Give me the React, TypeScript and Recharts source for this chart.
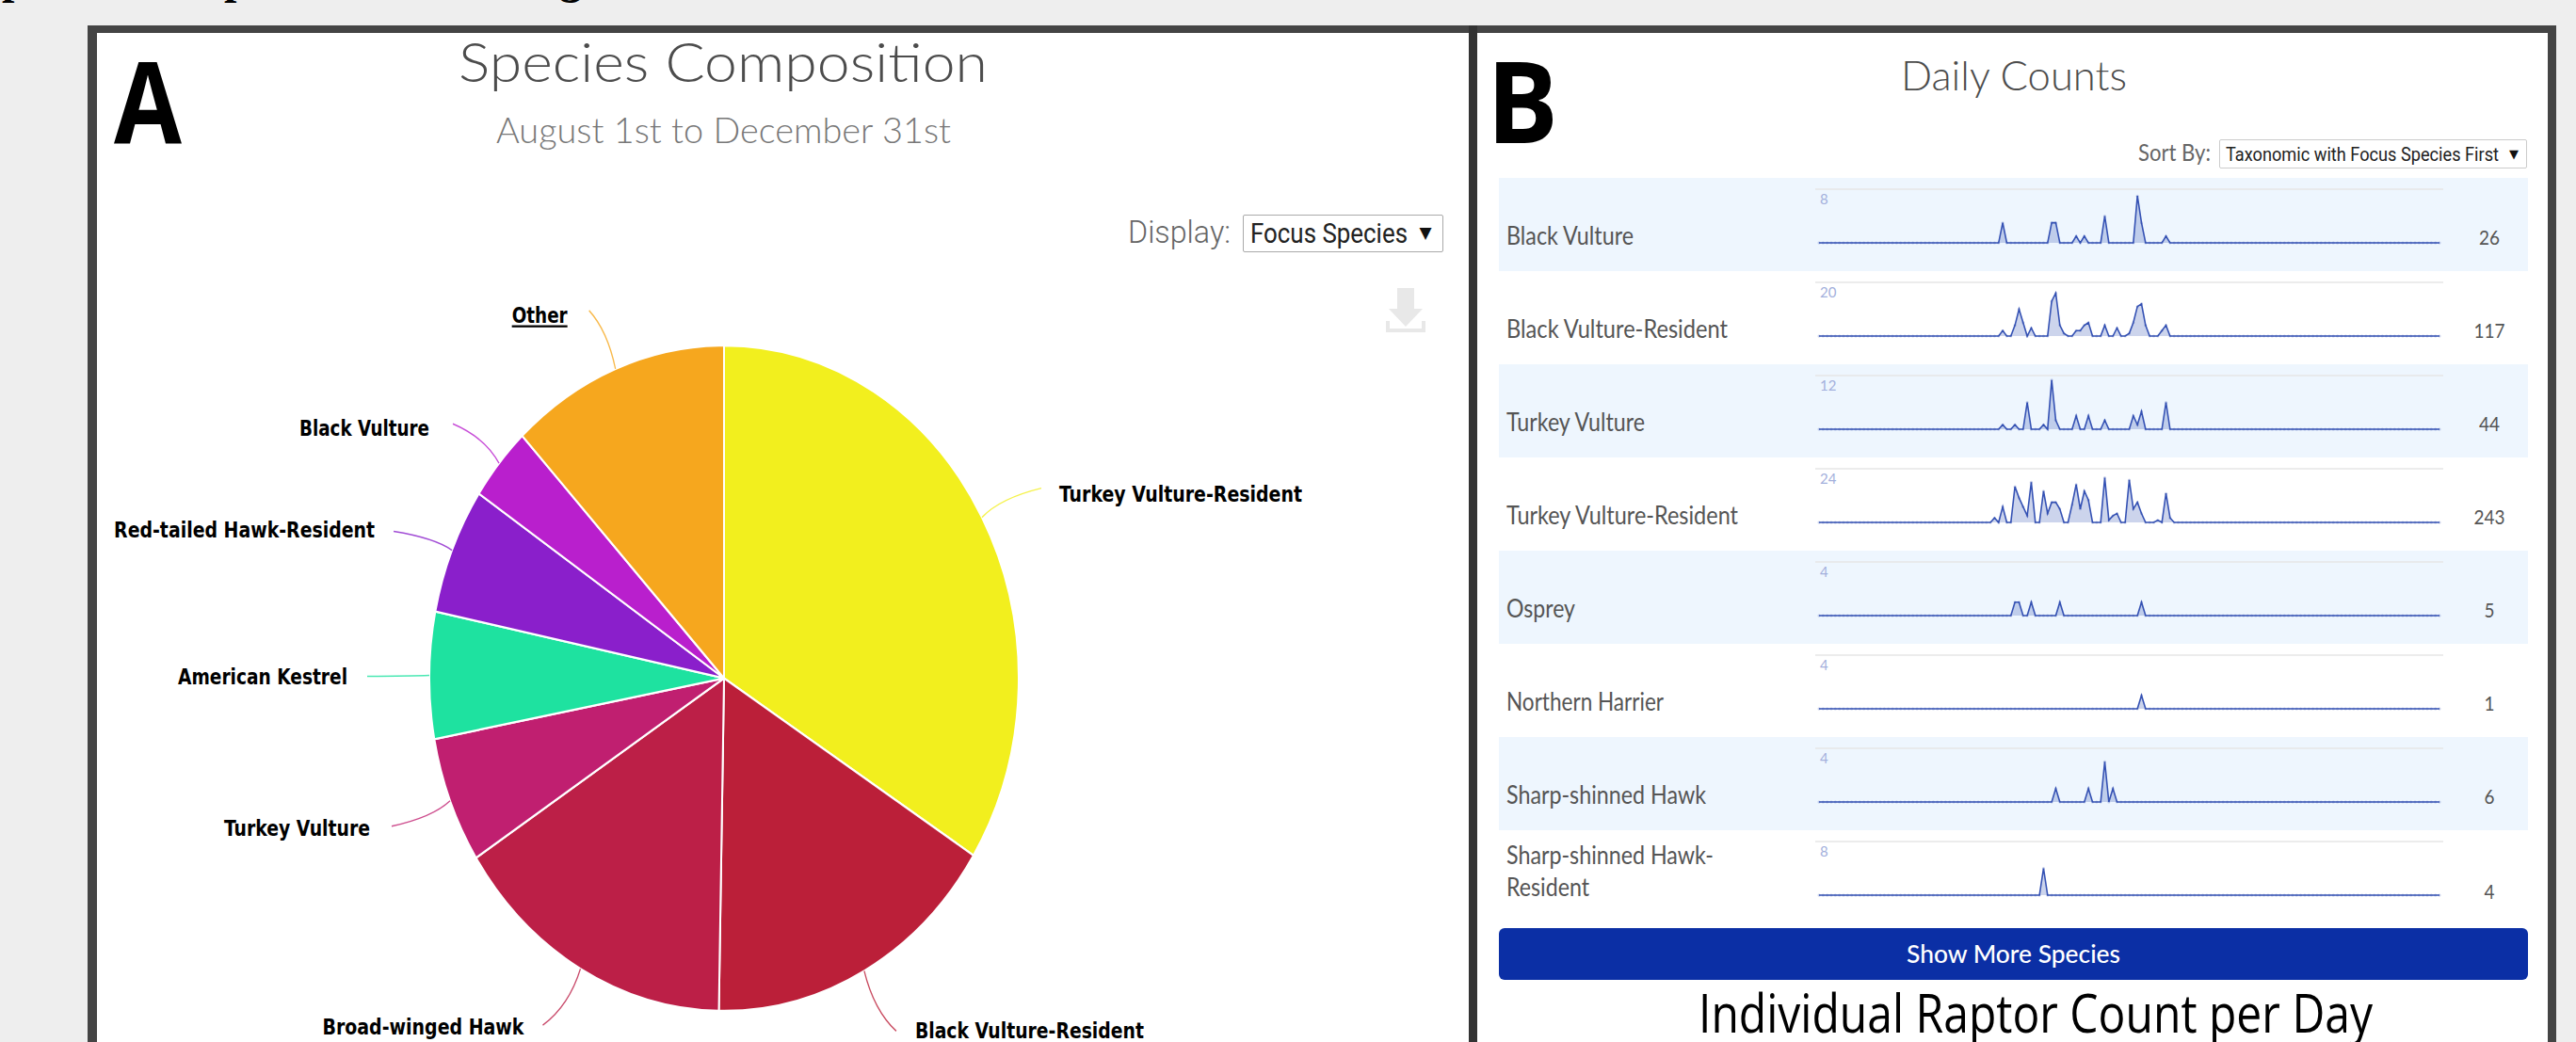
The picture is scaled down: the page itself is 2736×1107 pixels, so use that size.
import React from "react";
import { PieChart, Pie, Cell, AreaChart, Area, XAxis, YAxis, ReferenceLine } from "recharts";

// ---------- pie data ----------
const pieNames = ["Turkey Vulture-Resident", "Black Vulture-Resident", "Broad-winged Hawk", "Turkey Vulture", "American Kestrel", "Red-tailed Hawk-Resident", "Black Vulture", "Other"];
const pieValues = [243, 117, 112, 44, 44, 44, 26, 86];
const pieColors = ["#f2ef1e", "#bb1f39", "#bc1f47", "#c01f70", "#1ee2a0", "#8a1fcb", "#b91fcd", "#f6a71e"];

// ---------- sparkline data (sparse: day index and count) ----------
const dayCount = 153;
const rowNames = ["Black Vulture", "Black Vulture-Resident", "Turkey Vulture", "Turkey Vulture-Resident", "Osprey", "Northern Harrier", "Sharp-shinned Hawk", "Sharp-shinned Hawk-Resident"];
const rowMax = [8, 20, 12, 24, 4, 4, 4, 8];
const rowTotals = [26, 117, 44, 243, 5, 1, 6, 4];
const bvDays = [45, 57, 58, 63, 65, 70, 78, 79, 85];
const bvCounts = [3, 3, 3, 1, 1, 4, 7, 3, 1];
const bvrDays = [45, 48, 49, 50, 52, 57, 58, 59, 60, 63, 64, 65, 66, 70, 73, 76, 77, 78, 79, 80, 84, 85];
const bvrCounts = [2, 4, 10, 5, 3, 13, 16, 4, 1, 2, 2, 4, 5, 4, 3, 1, 5, 11, 12, 4, 2, 4];
const tvDays = [45, 48, 51, 55, 57, 58, 63, 66, 70, 77, 78, 79, 85];
const tvCounts = [1, 1, 6, 1, 11, 2, 3, 3, 2, 3, 1, 4, 6];
const tvrDays = [43, 45, 48, 49, 50, 51, 52, 55, 56, 57, 58, 59, 62, 63, 64, 65, 66, 70, 71, 72, 73, 76, 77, 78, 79, 83, 85, 86];
const tvrCounts = [2, 7, 16, 11, 7, 3, 18, 14, 4, 9, 9, 6, 8, 17, 6, 14, 10, 20, 1, 3, 4, 19, 6, 9, 4, 1, 13, 2];
const ospreyDays = [48, 49, 52, 59, 79];
const ospreyCounts = [1, 1, 1, 1, 1];
const harrierDays = [79];
const harrierCounts = [1];
const sshDays = [58, 66, 70, 72];
const sshCounts = [1, 1, 3, 1];
const sshrDays = [55];
const sshrCounts = [4];
const rowDays = [bvDays, bvrDays, tvDays, tvrDays, ospreyDays, harrierDays, sshDays, sshrDays];
const rowCounts = [bvCounts, bvrCounts, tvCounts, tvrCounts, ospreyCounts, harrierCounts, sshCounts, sshrCounts];

const buildSeries = (days: number[], counts: number[]) => {
  const table = Array.from({ length: dayCount }, (_, day) => ({ day, count: 0 }));
  days.forEach((d, i) => { table[d].count = counts[i]; });
  return table;
};

const pieData = pieNames.map((name, i) => ({ name, value: pieValues[i] }));

// ---------- layout ----------
const PIE_R = 313;
const STRETCH = 353.5 / PIE_R;
const ROW_TOP = 189;
const ROW_H = 99;
const rowLabelWidths = [135, 235, 147, 246, 73, 167, 212];

// label connector offset from the slice edge, text shift and text width
const labelLayout: Record<string, { dx: number; dy: number; w: number; sx: number; sy: number }> = {
  "Turkey Vulture-Resident": { dx: 63, dy: -31, w: 258, sx: -1, sy: 7 },
  "Black Vulture-Resident": { dx: 34, dy: 64, w: 243, sx: 0, sy: 1 },
  "Broad-winged Hawk": { dx: -40, dy: 60, w: 214, sx: 0, sy: 3 },
  "Turkey Vulture": { dx: -62, dy: 27, w: 155, sx: -3, sy: 3 },
  "American Kestrel": { dx: -66, dy: 1, w: 180, sx: -1, sy: 2 },
  "Red-tailed Hawk-Resident": { dx: -62, dy: -20, w: 277, sx: 0, sy: 0 },
  "Black Vulture": { dx: -49, dy: -42, w: 138, sx: -5, sy: 5 },
  "Other": { dx: -28, dy: -62, w: 59, sx: -3, sy: 6 },
};

const PieLabel = (props: any) => {
  const { cx, cy, midAngle, outerRadius, name, index } = props;
  const a = (midAngle * Math.PI) / 180;
  const ex = cx + outerRadius * Math.cos(a);
  const ey = cy - outerRadius * Math.sin(a);
  const l = labelLayout[name];
  const tx = ex + l.dx;
  const ty = ey + l.dy / STRETCH;
  const right = l.dx > 0;
  const gap = right ? 20 : -20;
  const qx = ex + l.dx * 0.3;
  const qy = ey + (l.dy / STRETCH) * 0.65;
  return (
    <g>
      <path d={`M${ex},${ey} Q${qx},${qy} ${tx},${ty}`} fill="none" stroke={pieColors[index]} strokeWidth={1.3} opacity={0.8} />
      <text
        x={tx + gap + l.sx}
        y={ty + 6 + l.sy}
        textAnchor={right ? "start" : "end"}
        textLength={l.w}
        lengthAdjust="spacingAndGlyphs"
        fontFamily="'DejaVu Sans Condensed','DejaVu Sans',sans-serif"
        fontWeight={700}
        fontSize={20}
        fill="#000"
        textDecoration={name === "Other" ? "underline" : undefined}
      >
        {name}
      </text>
    </g>
  );
};

const Abs = ({ l, t, w, h, s }: any) => (
  <div style={{ position: "absolute", left: l, top: t, width: w, height: h, ...s }} />
);

const T = ({ x, y, w, size, fill = "#4c4c4c", family = "Lato, sans-serif", weight = 400, anchor = "start", children }: any) => (
  <text x={x} y={y} textLength={w} lengthAdjust="spacingAndGlyphs" fontSize={size} fill={fill} fontFamily={family} fontWeight={weight} textAnchor={anchor}>
    {children}
  </text>
);

const Spark = ({ idx }: { idx: number }) => {
  const data = buildSeries(rowDays[idx], rowCounts[idx]);
  const max = rowMax[idx];
  return (
    <div style={{ position: "absolute", left: 1928, top: ROW_TOP + ROW_H * idx + 10, width: 667, height: 62 }}>
      <AreaChart width={667} height={62} data={data} margin={{ top: 2, right: 0, bottom: 3, left: 0 }}>
        <XAxis dataKey="day" type="number" domain={[0, dayCount - 1]} hide padding={{ left: 4, right: 4 }} />
        <YAxis hide domain={[0, max]} />
        <ReferenceLine
          y={max}
          stroke="#e6e6e6"
          strokeWidth={1.5}
          label={{ value: max, position: "insideTopLeft", fill: "#a3b0dc", fontSize: 15, offset: 5, fontFamily: "Lato, sans-serif" }}
        />
        <Area
          type="linear"
          dataKey="count"
          stroke="#3552b4"
          strokeWidth={1.6}
          fill="#3552b4"
          fillOpacity={0.25}
          dot={{ r: 1.5, fill: "#2a48ac", stroke: "none" }}
          isAnimationActive={false}
        />
      </AreaChart>
    </div>
  );
};

export default function App() {
  return (
    <div style={{ position: "fixed", left: 0, top: 0, width: 2736, height: 1107, overflow: "hidden", background: "#eeeeee" }}>
      {/* panels */}
      <Abs l={93} t={27} w={2622} h={1080} s={{ background: "#444444" }} />
      <Abs l={103} t={35} w={1457} h={1072} s={{ background: "#ffffff" }} />
      <Abs l={1569} t={35} w={1137} h={1072} s={{ background: "#ffffff" }} />
      <Abs l={1560} t={27} w={9} h={1080} s={{ background: "#333333" }} />

      {/* pie, stretched vertically like the reference */}
      <div style={{ position: "absolute", left: 0, top: 0, width: 1560, height: 980, transform: `scaleY(${STRETCH})`, transformOrigin: "0 0" }}>
        <PieChart width={1560} height={980} margin={{ top: 0, right: 0, bottom: 0, left: 0 }}>
          <Pie
            data={pieData}
            dataKey="value"
            nameKey="name"
            cx={769}
            cy={720.5 / STRETCH}
            outerRadius={PIE_R}
            startAngle={90}
            endAngle={-270}
            stroke="#ffffff"
            strokeWidth={2}
            label={PieLabel}
            labelLine={false}
            isAnimationActive={false}
          >
            {pieData.map((d, i) => (
              <Cell key={d.name} fill={pieColors[i]} />
            ))}
          </Pie>
        </PieChart>
      </div>

      {/* row stripes */}
      {rowNames.map((n, i) =>
        i % 2 === 0 ? <Abs key={n} l={1592} t={ROW_TOP + ROW_H * i} w={1093} h={ROW_H} s={{ background: "#eef6fe" }} /> : null
      )}
      {/* select boxes, button */}
      <Abs l={1320} t={228} w={211} h={38} s={{ background: "#fff", border: "1.5px solid #aaa", borderRadius: 2 }} />
      <Abs l={2357} t={148} w={325} h={29} s={{ background: "#fff", border: "1.5px solid #ccc", borderRadius: 2 }} />
      <Abs l={1592} t={986} w={1093} h={55} s={{ background: "#0b2fa5", borderRadius: 6 }} />

      {rowNames.map((n, i) => (
        <Spark key={n} idx={i} />
      ))}

      <svg width={2736} height={1107} style={{ position: "absolute", left: 0, top: 0, pointerEvents: "none" }}>
        {/* cut-off line of text above the panels */}
        <text x={2} y={-7} fontFamily="'Liberation Serif',serif" fontWeight={700} fontSize={48} fill="#000">p</text>
        <text x={238} y={-7} fontFamily="'Liberation Serif',serif" fontWeight={700} fontSize={48} fill="#000">p</text>
        <text x={594} y={-7} fontFamily="'Liberation Serif',serif" fontWeight={700} fontSize={48} fill="#000">g</text>

        <T x={121} y={152} w={72} size={120} fill="#000" family="'Open Sans',sans-serif" weight={700}>A</T>
        <T x={1579} y={152} w={76} size={120} fill="#000" family="'Open Sans',sans-serif" weight={700}>B</T>
        <T x={487} y={87} w={562} size={58} weight={300}>Species Composition</T>
        <T x={527} y={152} w={483} size={38} fill="#777" weight={300}>August 1st to December 31st</T>
        <T x={2019} y={96} w={240} size={43} weight={300}>Daily Counts</T>
        <T x={2271} y={171} w={77} size={25} fill="#666">Sort By:</T>
        <T x={2364} y={171} w={290} size={20} fill="#222" family="Roboto, sans-serif">Taxonomic with Focus Species First</T>
        <text x={2670} y={168} textAnchor="middle" fontSize={13} fill="#111" fontFamily="'DejaVu Sans',sans-serif">▼</text>
        <T x={1198} y={258} w={109} size={34} fill="#666" family="Roboto, sans-serif" weight={300}>Display:</T>
        <T x={1328} y={258} w={167} size={30} fill="#222" family="Roboto, sans-serif">Focus Species</T>
        <text x={1514} y={253} textAnchor="middle" fontSize={17} fill="#111" fontFamily="'DejaVu Sans',sans-serif">▼</text>

        {/* download icon */}
        <path d="M1484,306 H1502 V328 H1511 L1493,347 L1475,328 H1484 Z M1472,341 H1476 V349 H1510 V341 H1514 V353 H1472 Z" fill="#e8e8e8" />

        {rowNames.slice(0, 7).map((n, i) => (
          <T key={n} x={1600} y={ROW_TOP + ROW_H * i + 70.5} w={rowLabelWidths[i]} size={26} fill="#555">{n}</T>
        ))}
        <T x={1600} y={918} w={220} size={26} fill="#555">Sharp-shinned Hawk-</T>
        <T x={1600} y={952} w={88} size={26} fill="#555">Resident</T>
        {rowTotals.map((v, i) => (
          <T key={i} x={2644} y={ROW_TOP + ROW_H * i + 71 + (i === 7 ? 2 : 0)} w={String(v).length * 11} size={22} fill="#555" anchor="middle">{v}</T>
        ))}
        <T x={2025} y={1023} w={227} size={26} fill="#fff" weight={500}>Show More Species</T>
        <T x={1804} y={1097} w={716} size={56} fill="#000" family="'Open Sans',sans-serif">Individual Raptor Count per Day</T>
      </svg>
    </div>
  );
}
